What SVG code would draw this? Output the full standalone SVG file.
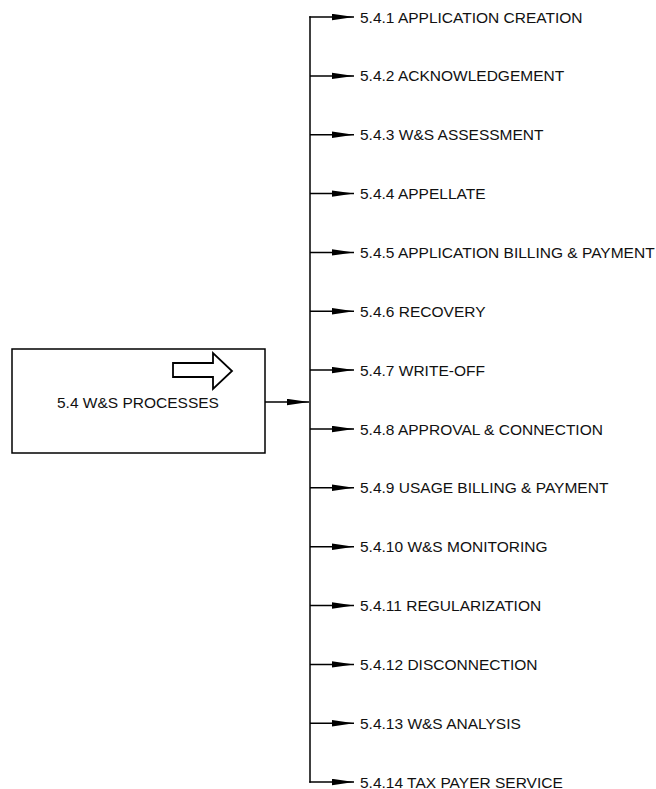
<svg xmlns="http://www.w3.org/2000/svg" width="656" height="789" viewBox="0 0 656 789">
<style>
.ln{stroke:#000;stroke-width:1.5;fill:none}
.lbl{font-family:"Liberation Sans",Arial,sans-serif;font-size:15.5px;fill:#111}
</style>
<defs>
<marker id="ah" markerWidth="24" markerHeight="8" refX="22" refY="3.5" orient="auto" markerUnits="userSpaceOnUse">
<path d="M0,0.3 L22,3.5 L0,6.7 Z" fill="#000"/>
</marker>
</defs>
<rect width="656" height="789" fill="#fff"/>
<g id="root">
<rect x="12" y="349" width="253" height="104" fill="#fff" stroke="#000" stroke-width="1.5"/>
<path d="M173,363 L213,363 L213,353 L232,371 L213,389 L213,377 L173,377 Z" fill="#fff" stroke="#000" stroke-width="1.8"/>
<text class="lbl" x="57" y="407.5">5.4 W&amp;S PROCESSES</text>
</g>
<g id="connectors">
<line class="ln" x1="265" y1="402" x2="309" y2="402" marker-end="url(#ah)"/>
<line class="ln" x1="310" y1="16.3" x2="310" y2="782.7"/>
<line class="ln" x1="309.3" y1="17" x2="354" y2="17" marker-end="url(#ah)"/>
<line class="ln" x1="310" y1="75.9" x2="354" y2="75.9" marker-end="url(#ah)"/>
<line class="ln" x1="310" y1="134.7" x2="354" y2="134.7" marker-end="url(#ah)"/>
<line class="ln" x1="310" y1="193.6" x2="354" y2="193.6" marker-end="url(#ah)"/>
<line class="ln" x1="310" y1="252.4" x2="354" y2="252.4" marker-end="url(#ah)"/>
<line class="ln" x1="310" y1="311.3" x2="354" y2="311.3" marker-end="url(#ah)"/>
<line class="ln" x1="310" y1="370.1" x2="354" y2="370.1" marker-end="url(#ah)"/>
<line class="ln" x1="310" y1="429" x2="354" y2="429" marker-end="url(#ah)"/>
<line class="ln" x1="310" y1="487.8" x2="354" y2="487.8" marker-end="url(#ah)"/>
<line class="ln" x1="310" y1="546.7" x2="354" y2="546.7" marker-end="url(#ah)"/>
<line class="ln" x1="310" y1="605.5" x2="354" y2="605.5" marker-end="url(#ah)"/>
<line class="ln" x1="310" y1="664.4" x2="354" y2="664.4" marker-end="url(#ah)"/>
<line class="ln" x1="310" y1="723.2" x2="354" y2="723.2" marker-end="url(#ah)"/>
<line class="ln" x1="309.3" y1="782" x2="354" y2="782" marker-end="url(#ah)"/>
</g>
<g id="n1"><text class="lbl" x="360" y="22.5">5.4.1 APPLICATION CREATION</text></g>
<g id="n2"><text class="lbl" x="360" y="81.4">5.4.2 ACKNOWLEDGEMENT</text></g>
<g id="n3"><text class="lbl" x="360" y="140.2">5.4.3 W&amp;S ASSESSMENT</text></g>
<g id="n4"><text class="lbl" x="360" y="199.1">5.4.4 APPELLATE</text></g>
<g id="n5"><text class="lbl" x="360" y="257.9">5.4.5 APPLICATION BILLING &amp; PAYMENT</text></g>
<g id="n6"><text class="lbl" x="360" y="316.8">5.4.6 RECOVERY</text></g>
<g id="n7"><text class="lbl" x="360" y="375.6">5.4.7 WRITE-OFF</text></g>
<g id="n8"><text class="lbl" x="360" y="434.5">5.4.8 APPROVAL &amp; CONNECTION</text></g>
<g id="n9"><text class="lbl" x="360" y="493.3">5.4.9 USAGE BILLING &amp; PAYMENT</text></g>
<g id="n10"><text class="lbl" x="360" y="552.2">5.4.10 W&amp;S MONITORING</text></g>
<g id="n11"><text class="lbl" x="360" y="611">5.4.11 REGULARIZATION</text></g>
<g id="n12"><text class="lbl" x="360" y="669.9">5.4.12 DISCONNECTION</text></g>
<g id="n13"><text class="lbl" x="360" y="728.7">5.4.13 W&amp;S ANALYSIS</text></g>
<g id="n14"><text class="lbl" x="360" y="787.5">5.4.14 TAX PAYER SERVICE</text></g>
</svg>
